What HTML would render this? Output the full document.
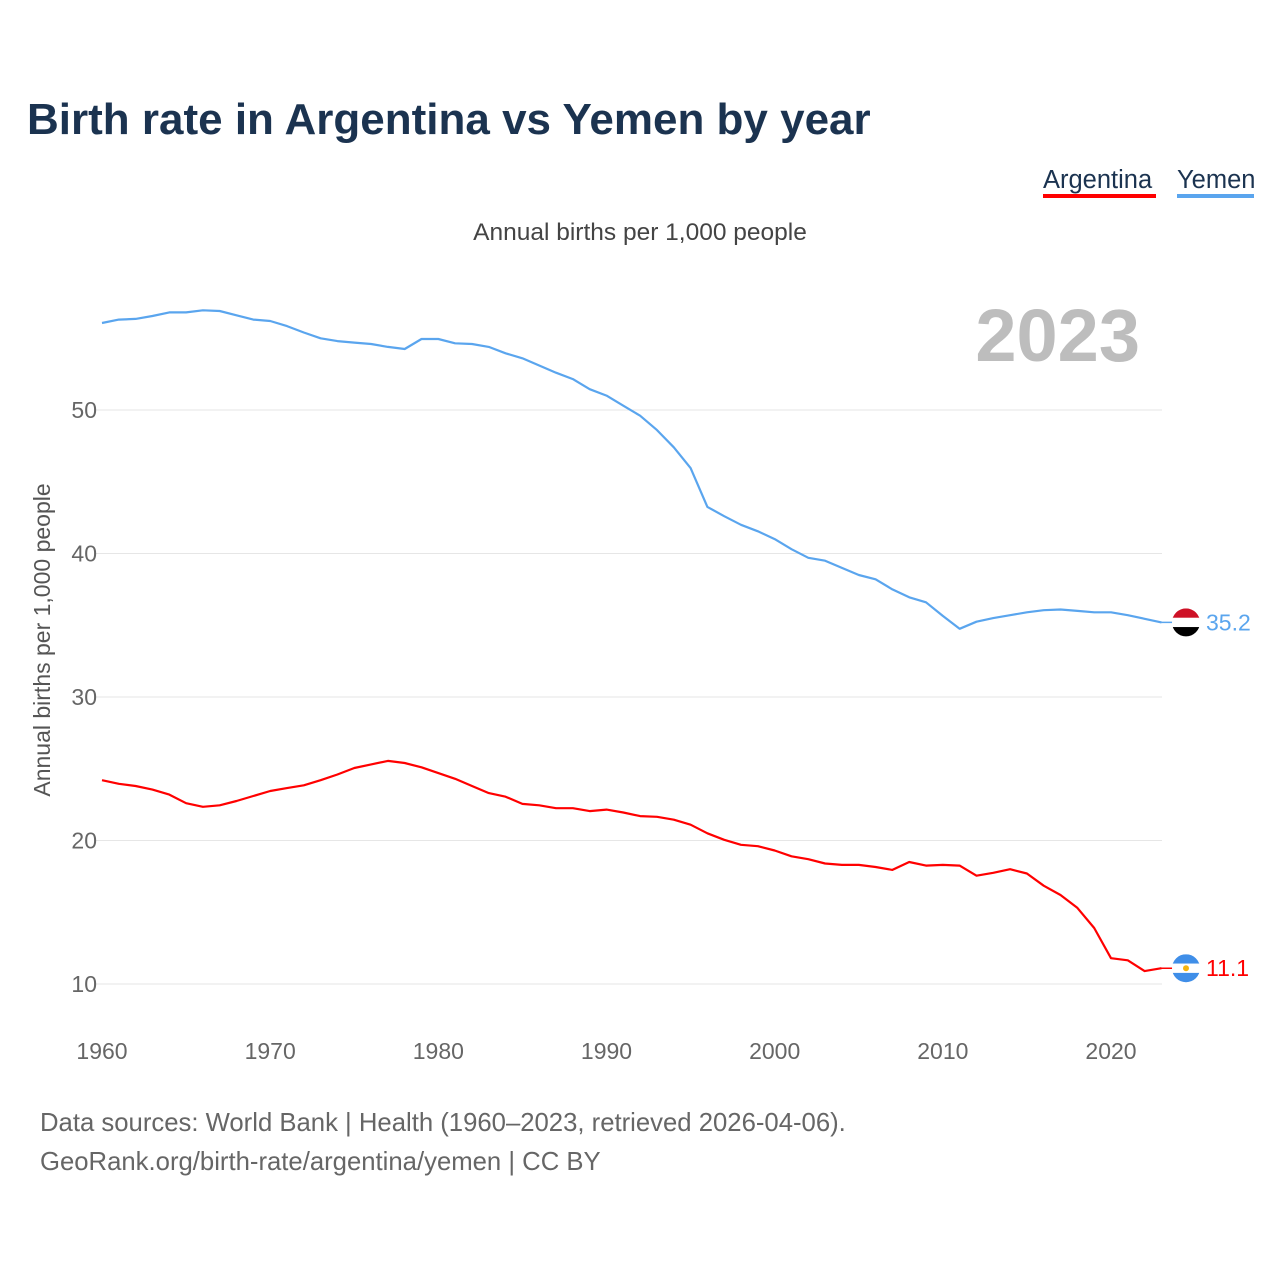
<!DOCTYPE html>
<html><head><meta charset="utf-8">
<style>
body{margin:0;width:1280px;height:1280px;background:#fff;font-family:"Liberation Sans",sans-serif;overflow:hidden}
svg{display:block}
</style></head>
<body>
<svg id="chart" width="1280" height="1280">
<text x="27" y="134" font-size="44" font-weight="bold" fill="#1b3350">Birth rate in Argentina vs Yemen by year</text>
<g>
<text x="1043" y="188" font-size="25.5" fill="#1b3350">Argentina</text>
<rect x="1043" y="194" width="113" height="4" fill="#ff0000"/>
<text x="1177" y="188" font-size="25.5" fill="#1b3350">Yemen</text>
<rect x="1177" y="194" width="77" height="4" fill="#5aa5ee"/>
</g>
<text x="640" y="240" font-size="24.5" fill="#444" text-anchor="middle">Annual births per 1,000 people</text>
<text x="1140" y="361" font-size="74" font-weight="bold" fill="#bdbdbd" text-anchor="end">2023</text>
<text transform="translate(50,640) rotate(-90)" font-size="23" fill="#555" text-anchor="middle">Annual births per 1,000 people</text>
<g id="grid"></g><g id="lines"></g><g id="ends"></g>
<text x="40" y="1131" font-size="25.7" fill="#666">Data sources: World Bank | Health (1960–2023, retrieved 2026-04-06).</text>
<text x="40" y="1170" font-size="25.7" fill="#666">GeoRank.org/birth-rate/argentina/yemen | CC BY</text>
</svg>
<script>
const years=[];for(let y=1960;y<=2023;y++)years.push(y);
const yemen=[56.06,56.3,56.35,56.55,56.8,56.8,56.95,56.9,56.6,56.3,56.2,55.85,55.4,55.0,54.8,54.7,54.6,54.4,54.25,54.95,54.95,54.65,54.6,54.4,53.95,53.6,53.1,52.6,52.15,51.45,51.0,50.3,49.6,48.6,47.4,45.95,43.25,42.6,42.0,41.55,41.0,40.3,39.7,39.5,39.0,38.5,38.2,37.5,36.95,36.6,35.65,34.75,35.25,35.5,35.7,35.9,36.05,36.1,36.0,35.9,35.9,35.7,35.45,35.2];
const argentina=[24.2,23.95,23.8,23.55,23.2,22.6,22.35,22.45,22.75,23.1,23.45,23.65,23.85,24.2,24.6,25.05,25.3,25.55,25.4,25.1,24.7,24.3,23.8,23.3,23.05,22.55,22.45,22.25,22.25,22.05,22.15,21.95,21.7,21.65,21.45,21.1,20.5,20.05,19.7,19.6,19.3,18.9,18.7,18.4,18.3,18.3,18.15,17.95,18.5,18.25,18.3,18.25,17.55,17.75,18.0,17.7,16.85,16.2,15.3,13.9,11.8,11.65,10.9,11.1];
const yTicks=[10,20,30,40,50];
const xTicks=[1960,1970,1980,1990,2000,2010,2020];
const X=y=>102+(y-1960)*(1111-102)/60;
const Y=v=>984-(v-10)*(984-410)/40;
const NS="http://www.w3.org/2000/svg";
function mk(t,a,p,txt){const e=document.createElementNS(NS,t);for(const k in a)e.setAttribute(k,a[k]);if(txt!==undefined)e.textContent=txt;p.appendChild(e);return e;}
const grid=document.getElementById('grid');
yTicks.forEach(v=>{
 const l=mk('line',{x1:95,x2:1162,y1:Y(v),y2:Y(v),stroke:'#e6e6e6','stroke-width':1},grid);
 
 
 const t=mk('text',{x:97,y:Y(v)+8,'font-size':23,fill:'#666','text-anchor':'end'},grid,String(v));
 
 
});
xTicks.forEach(v=>{
 const t=mk('text',{x:X(v),y:1059,'font-size':23,fill:'#666','text-anchor':'middle'},grid,String(v));
 
 
});
const lines=document.getElementById('lines');
function path(vals,color,name){
 const d=vals.map((v,i)=>(i?'L':'M')+X(years[i]).toFixed(1)+','+Y(v).toFixed(1)).join('');
 const p=mk('path',{d:d,fill:'none',stroke:color,'stroke-width':2.2,'stroke-linejoin':'round'},lines);
 
 
}
path(yemen,'#5aa5ee','yemen-line');
path(argentina,'#ff0000','argentina-line');
const ends=document.getElementById('ends');
function endMark(vals,color,name,flag){
 const v=vals[vals.length-1],cy=Y(v),cx=1186;
 mk('line',{x1:X(2023),x2:cx,y1:cy,y2:cy,stroke:color,'stroke-width':1.5},ends);
 const g=mk('g',{},ends);
 
 
 const cid='c'+name;
 const cp=mk('clipPath',{id:cid},g);mk('circle',{cx:cx,cy:cy,r:14},cp);
 const gg=mk('g',{'clip-path':'url(#'+cid+')'},g);
 flag.forEach((c,i)=>mk('rect',{x:cx-14,y:cy-14+i*28/3,width:28,height:28/3+0.5,fill:c},gg));
 if(name==='argentina')mk('circle',{cx:cx,cy:cy,r:3,fill:'#f6b40e'},g);
 const t=mk('text',{x:1206,y:cy+8,'font-size':23,fill:color},ends,v.toFixed(1));
 
 
}
endMark(yemen,'#5aa5ee','yemen',['#ce1126','#ffffff','#000000']);
endMark(argentina,'#ff0000','argentina',['#3f8ee8','#ffffff','#3f8ee8']);
</script>
</body></html>
